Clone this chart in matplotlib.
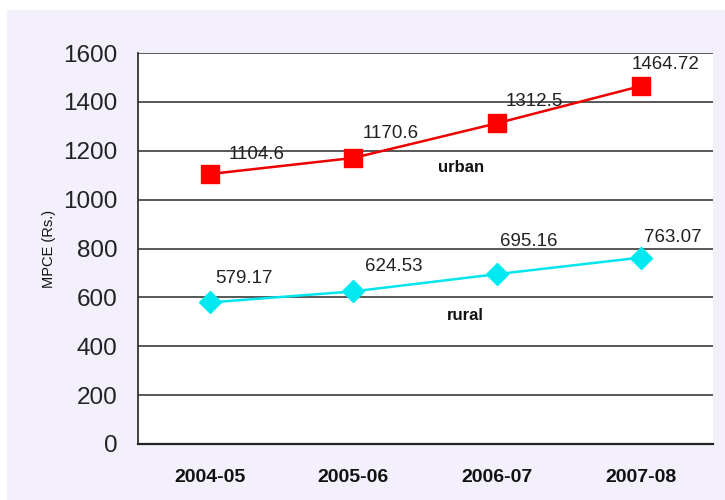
import matplotlib
matplotlib.use("Agg")
import matplotlib.pyplot as plt
from matplotlib.patches import Rectangle

years = ["2004-05", "2005-06", "2006-07", "2007-08"]
urban = [1104.6, 1170.6, 1312.5, 1464.72]
rural = [579.17, 624.53, 695.16, 763.07]
urban_labels = ["1104.6", "1170.6", "1312.5", "1464.72"]
rural_labels = ["579.17", "624.53", "695.16", "763.07"]
yticks = [0, 200, 400, 600, 800, 1000, 1200, 1400, 1600]

plt.rcParams['font.family'] = ['Liberation Sans', 'DejaVu Sans']

fig = plt.figure(figsize=(7.25, 5), dpi=100)
fig.patch.set_facecolor('white')
fig.patches.append(Rectangle((7 / 725, 0), 1, 1 - 10 / 500, transform=fig.transFigure,
                             facecolor='#F3F0FC', edgecolor='none', zorder=-10))
ax = fig.add_axes([0.190, 0.112, 0.793, 0.782])
ax.set_zorder(1)
ax.set_facecolor('white')

x = list(range(len(years)))
ax.plot(x, urban, color='#EE0000', lw=1.8, marker='s', markersize=13,
        markerfacecolor='#FF0000', markeredgecolor='#FF0000', zorder=3)
ax.plot(x, rural, color='#00E5EE', lw=1.8, marker='D', markersize=11,
        markerfacecolor='#00E8F0', markeredgecolor='#00E8F0', zorder=3)

ax.set_xlim(-0.5, 3.5)
ax.set_ylim(0, 1600)
ax.set_yticks(yticks)
ax.set_yticklabels([str(t) for t in yticks], fontsize=17.5, color='#222222')
ax.set_xticks(x)
ax.set_xticklabels(years, fontsize=14, fontweight='bold', color='#111111')
ax.tick_params(axis='x', length=0, pad=18)
ax.tick_params(axis='y', length=0, pad=14.5)

ax.grid(axis='y', color='#4a4a4a', lw=1.3, zorder=1)
ax.set_axisbelow(True)
for s in ['top', 'right']:
    ax.spines[s].set_visible(False)
ax.spines['left'].set_color('#333333')
ax.spines['left'].set_linewidth(1.3)
ax.spines['bottom'].set_color('#222222')
ax.spines['bottom'].set_linewidth(1.6)

u_off = [(0.33, 82), (0.26, 100), (0.26, 90), (0.17, 90)]
r_off = [(0.24, 98), (0.28, 102), (0.22, 135), (0.22, 82)]
for i in x:
    ax.text(i + u_off[i][0], urban[i] + u_off[i][1], urban_labels[i],
            fontsize=13.5, ha='center', va='center', color='#222222', zorder=4)
    ax.text(i + r_off[i][0], rural[i] + r_off[i][1], rural_labels[i],
            fontsize=13.5, ha='center', va='center', color='#222222', zorder=4)

ax.text(1.75, 1133, "urban", fontsize=12, fontweight='bold', ha='center', va='center', color='#111111')
ax.text(1.78, 524, "rural", fontsize=12, fontweight='bold', ha='center', va='center', color='#111111')

ax.set_ylabel("MPCE (Rs.)", fontsize=10.5, labelpad=5.5, color='#111111')

fig.savefig("out.png", dpi=100, facecolor=fig.get_facecolor())
